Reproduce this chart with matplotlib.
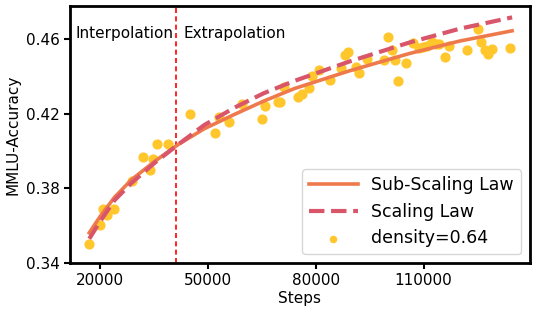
import numpy as np
from matplotlib import pyplot as plt

# scatter points (steps, MMLU accuracy) for density=0.64
steps = [17000, 20000, 20900, 21950, 24000, 28750, 31950, 34860, 33970, 35970,
         39030, 45000, 51940, 53000, 55970, 59580, 65000, 65970, 69440, 70140,
         71250, 74940, 76060, 78060, 78940, 80970, 84030, 87000, 88060, 89030,
         91060, 92080, 94110, 99030, 100000, 101170, 102080, 103000, 105060, 107140,
         108750, 109860, 110970, 112280, 113390, 114310, 116060, 117080, 122030, 125140,
         126060, 127080, 128000, 129110, 134080]
acc = [0.3501, 0.3606, 0.3689, 0.3656, 0.3688, 0.3841, 0.3969, 0.3960, 0.3901, 0.4040,
       0.4040, 0.4198, 0.4098, 0.4181, 0.4156, 0.4251, 0.4172, 0.4244, 0.4264, 0.4264,
       0.4345, 0.4288, 0.4304, 0.4340, 0.4403, 0.4436, 0.4382, 0.4447, 0.4514, 0.4530,
       0.4450, 0.4421, 0.4496, 0.4487, 0.4611, 0.4544, 0.4487, 0.4376, 0.4475, 0.4582,
       0.4552, 0.4557, 0.4565, 0.4586, 0.4573, 0.4573, 0.4502, 0.4564, 0.4541, 0.4654,
       0.4587, 0.4540, 0.4521, 0.4550, 0.4551]

# fitted curves
curve_x = [17000, 20000, 24000, 28750, 35200, 41700, 49000, 57400, 65500, 74000,
           89300, 106000, 120000, 134600]
sub_scaling = [0.3562, 0.3649, 0.3752, 0.3847, 0.3945, 0.4035, 0.4120, 0.4197, 0.4268, 0.4335,
               0.4430, 0.4523, 0.4590, 0.4645]
scaling = [0.3530, 0.3622, 0.3736, 0.3829, 0.3937, 0.4035, 0.4140, 0.4233, 0.4310, 0.4376,
           0.4480, 0.4582, 0.4656, 0.4717]

split_step = 41000

plt.rcParams['font.family'] = 'DejaVu Sans'
fig = plt.figure(figsize=(5.4, 3.12), dpi=100)
ax = fig.add_axes([0.13, 0.157, 0.851, 0.825])

ax.plot(curve_x, sub_scaling, color="#EE7A4C", lw=2.6, label="Sub-Scaling Law", zorder=3)
ax.plot(curve_x, scaling, color="#D9566A", lw=3, ls="--", label="Scaling Law", zorder=3)
ax.scatter(steps, acc, s=40, color="#FFC72C", label="density=0.64", zorder=2)

ax.axvline(split_step, color="red", ls="--", lw=1.2, dashes=(3, 2))
ax.text(0.012, 0.875, "Interpolation", transform=ax.transAxes, fontsize=11)
ax.text(0.246, 0.875, "Extrapolation", transform=ax.transAxes, fontsize=11)

ax.set_xlim(11700, 139500)
ax.set_ylim(0.34, 0.478)
ax.set_xticks([20000, 50000, 80000, 110000])
ax.set_yticks([0.34, 0.38, 0.42, 0.46])
ax.set_yticklabels(["0.34", "0.38", "0.42", "0.46"])
ax.tick_params(labelsize=11, width=1.5, length=4)
for s in ax.spines.values():
    s.set_linewidth(2)

ax.set_xlabel("Steps", fontsize=11, labelpad=2)
ax.set_ylabel("MMLU-Accuracy", fontsize=11, labelpad=4)

ax.legend(loc="lower right", fontsize=12.5, handlelength=2.8, markerscale=0.7)

plt.savefig("out.png", dpi=100)
